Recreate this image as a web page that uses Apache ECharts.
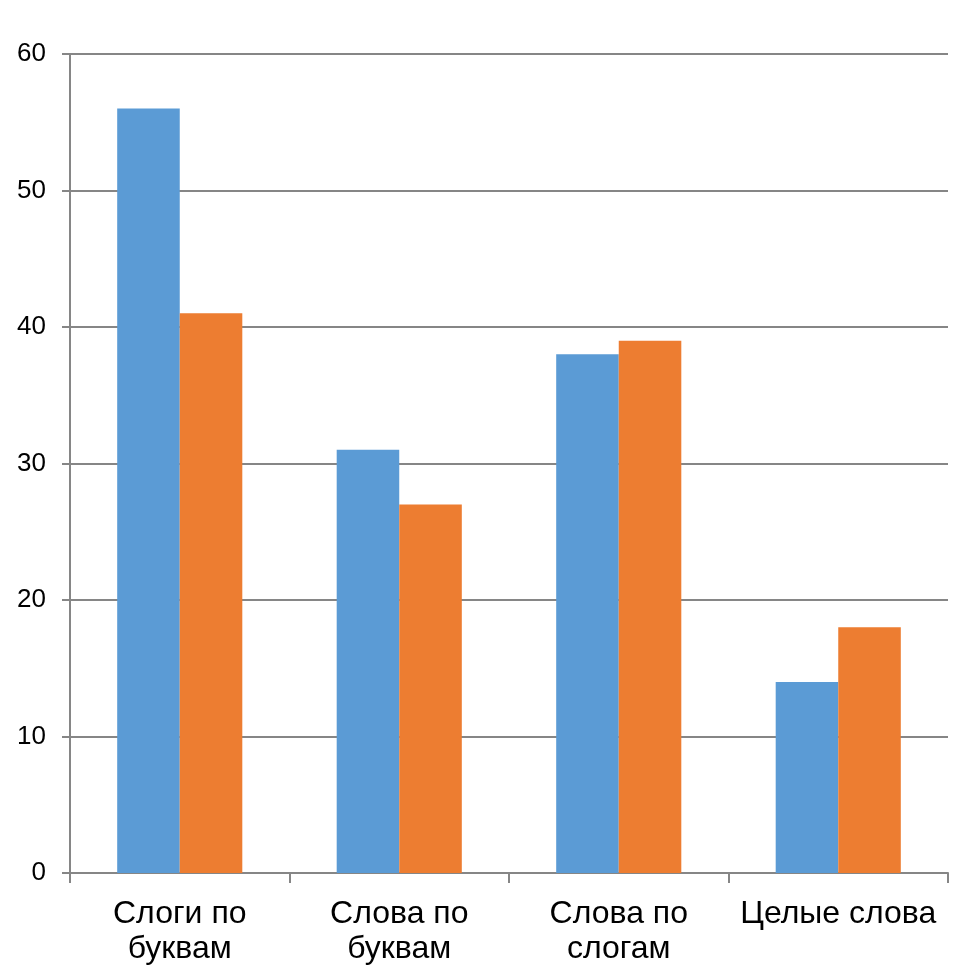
<!DOCTYPE html>
<html>
<head>
<meta charset="utf-8">
<script src="https://cdn.jsdelivr.net/npm/echarts@6/dist/echarts.min.js"></script>
<style>html,body{margin:0;padding:0;background:#fff}#c{width:960px;height:973px}</style>
</head>
<body>
<div id="c"></div>
<script>
const categories = ['Слоги по\nбуквам', 'Слова по\nбуквам', 'Слова по\nслогам', 'Целые слова'];
const series1 = [56, 31, 38, 14];
const series2 = [41, 27, 39, 18];
const yTicks = { min: 0, max: 60, interval: 10 };

const chart = echarts.init(document.getElementById('c'));
chart.setOption({
  animation: false,
  backgroundColor: '#ffffff',
  grid: { left: 70, right: 12, top: 54, bottom: 100, containLabel: false },
  xAxis: {
    type: 'category',
    data: categories,
    axisLine: { lineStyle: { color: '#868686', width: 2 } },
    axisTick: { show: true, length: 10, lineStyle: { color: '#868686', width: 2 } },
    axisLabel: { color: '#000', fontSize: 32, fontFamily: 'Liberation Sans, Arial', lineHeight: 35, margin: 24, interval: 0 }
  },
  yAxis: {
    type: 'value',
    min: yTicks.min, max: yTicks.max, interval: yTicks.interval,
    axisLine: { show: true, lineStyle: { color: '#868686', width: 2 } },
    axisTick: { show: true, length: 8, lineStyle: { color: '#868686', width: 2 } },
    splitLine: { lineStyle: { color: '#868686', width: 2 } },
    axisLabel: { color: '#000', fontSize: 26, fontFamily: 'Liberation Sans, Arial', margin: 24 }
  },
  series: [
    { type: 'bar', data: series1, barGap: '0%', barCategoryGap: '43%', itemStyle: { color: '#5B9BD5' } },
    { type: 'bar', data: series2, barGap: '0%', barCategoryGap: '43%', itemStyle: { color: '#ED7D31' } }
  ]
});
</script>
</body>
</html>
